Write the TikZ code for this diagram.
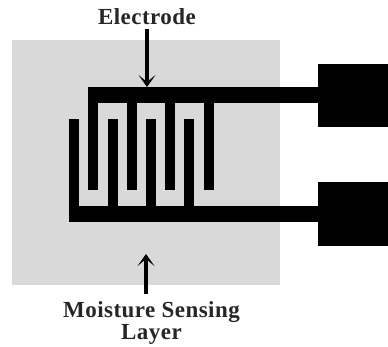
\documentclass[tikz,border=0pt]{standalone}
\usepackage{fontspec}
\setmainfont{Liberation Serif}[LetterSpace=2]
\usetikzlibrary{arrows.meta,positioning}
\definecolor{layergray}{HTML}{D9D9D9}
\tikzset{
  layer/.style={fill=layergray, draw=none},
  metal/.style={fill=black, draw=none},
  caption/.style={align=center, font=\fontsize{23}{22}\selectfont\bfseries, inner sep=0pt, text=black!85},
  pointer/.style={-{Stealth[length=12pt, width=17pt, inset=7pt]}, line width=3.6pt, black},
}

\begin{document}
\begin{tikzpicture}[x=1pt, y=-1pt]
    \useasboundingbox (0,0) rectangle (388,346);
    % sensing layer
    \fill[layer] (12,40) rectangle (280,285);
    % buses and contact pads
    \fill[metal] (88,87) rectangle (318,102.5);
    \fill[metal] (69,206) rectangle (318,221.5);
    \fill[metal] (318,64) rectangle (388,127);
    \fill[metal] (318,182) rectangle (388,246);
    % fingers
    \foreach \fx in {88,126.5,165,203.5}
      \fill[metal] (\fx,90) rectangle (\fx+10.3,190);
    \foreach \fx in {69,107.5,146,184}
      \fill[metal] (\fx,118.5) rectangle (\fx+10.3,210);
    % labels
    \node[caption] (electrode) at (147,17) {Electrode};
    \node[caption] (sensing) at (151.5,323) {Moisture Sensing\\[0pt]Layer};
    \coordinate (electrodeend) at (147,87);
    \coordinate (sensingend) at (146,254);
    \draw[pointer, shorten <=4pt] (electrode.south) -- (electrodeend);
    \draw[pointer, shorten <=7pt] (sensing.north -| sensingend) -- (sensingend);
  \end{tikzpicture}
\end{document}
